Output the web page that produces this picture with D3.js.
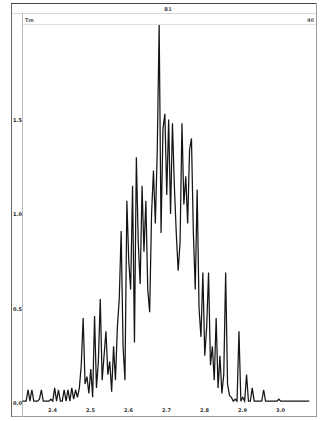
<!DOCTYPE html>
<html><head><meta charset="utf-8">
<script src="https://cdn.jsdelivr.net/npm/d3@7"></script>
<style>body{margin:0;background:#fff}svg{display:block}</style>
</head><body>
<svg id="c" width="323" height="421"></svg>
<script>
// ---- data ----
const xStart = 2.322;
const xStep = 0.005;
const values = [1,
1,1,7,1,7,1,1,1,2,7,
1,1,1,1,2,1,8,1,7,1,
1,7,1,7,1,8,2,7,3,8,
20,45,10,14,5,18,3,46,8,22,
55,12,25,38,15,22,6,30,12,40,
55,91,30,12,107,75,60,115,32,130,
85,63,115,80,107,60,48,100,123,95,
134,200,90,145,153,110,150,100,148,115,
90,70,85,148,105,120,95,134,140,90,
60,113,50,35,69,25,40,69,20,30,
12,45,8,25,5,15,69,10,4,3,
1,2,1,38,1,3,1,15,1,1,
8,1,1,1,1,1,7,
1,1,1,1,1,1,1,2,1,1,1,1,1,1,1,1,1,1,1,1,1,1,1,1];
const xTicks = [2.4, 2.5, 2.6, 2.7, 2.8, 2.9, 3.0];
const xTickLabels = ["2.4", "2.5", "2.6", "2.7", "2.8", "2.9", "3.0"];
const yTicks = [0, 50, 100, 150];
const yTickLabels = ["0.0", "0.5", "1.0", "1.5"];
const titleText = "B1";
const leftHeader = "Tm";
const rightHeader = "40";

// ---- drawing ----
const svg = d3.select("#c");
const x = d3.scaleLinear().domain([2.4, 3.0]).range([52, 280]);
const y = d3.scaleLinear().domain([0, 200]).range([403, 25]);

// frame
svg.append("rect").attr("x", 11.5).attr("y", 3.5).attr("width", 305).attr("height", 413)
  .attr("fill", "none").attr("stroke", "#9a9a9a");
svg.append("line").attr("x1", 11.5).attr("x2", 11.5).attr("y1", 3).attr("y2", 417).attr("stroke", "#666");
svg.append("line").attr("x1", 11).attr("x2", 316).attr("y1", 3.5).attr("y2", 3.5).attr("stroke", "#444");
svg.append("line").attr("x1", 12).attr("x2", 316).attr("y1", 13.5).attr("y2", 13.5).attr("stroke", "#d8d8d8");
svg.append("line").attr("x1", 22).attr("x2", 316).attr("y1", 24.5).attr("y2", 24.5).attr("stroke", "#e0e0e0");
svg.append("line").attr("x1", 22.5).attr("x2", 22.5).attr("y1", 13).attr("y2", 417).attr("stroke", "#bdbdbd");

svg.append("text").attr("x", 168).attr("y", 11).attr("text-anchor", "middle")
  .attr("font-family", "DejaVu Sans").attr("font-size", 5).attr("font-weight", "bold").attr("fill", "#555").text(titleText);
svg.append("text").attr("x", 25).attr("y", 22)
  .attr("font-family", "DejaVu Sans").attr("font-size", 5).attr("font-weight", "bold").attr("fill", "#555").text(leftHeader);
svg.append("text").attr("x", 314).attr("y", 22).attr("text-anchor", "end")
  .attr("font-family", "DejaVu Sans").attr("font-size", 5).attr("font-weight", "bold").attr("fill", "#555").text(rightHeader);

// y axis
const yAxis = svg.append("g").attr("transform", "translate(12,0)")
  .call(d3.axisRight(y).tickValues(yTicks).tickSize(0).tickPadding(1)
    .tickFormat((d, i) => yTickLabels[i]));
yAxis.select(".domain").remove();
yAxis.selectAll("text").attr("font-family", "DejaVu Sans").attr("font-size", 5)
  .attr("font-weight", "bold").attr("fill", "#222");

// x axis
const xAxis = svg.append("g").attr("transform", "translate(0,407)")
  .call(d3.axisBottom(x).tickValues(xTicks).tickSize(0).tickPadding(1)
    .tickFormat((d, i) => xTickLabels[i]));
xAxis.select(".domain").remove();
xAxis.selectAll("text").attr("font-family", "DejaVu Sans").attr("font-size", 5)
  .attr("font-weight", "bold").attr("fill", "#333");

// data line
const line = d3.line().x((d, i) => x(xStart + i * xStep)).y(d => y(d));
svg.append("path").datum(values).attr("d", line)
  .attr("fill", "none").attr("stroke", "#151515").attr("stroke-width", 1.25).attr("stroke-linejoin", "miter");
</script>
</body></html>
